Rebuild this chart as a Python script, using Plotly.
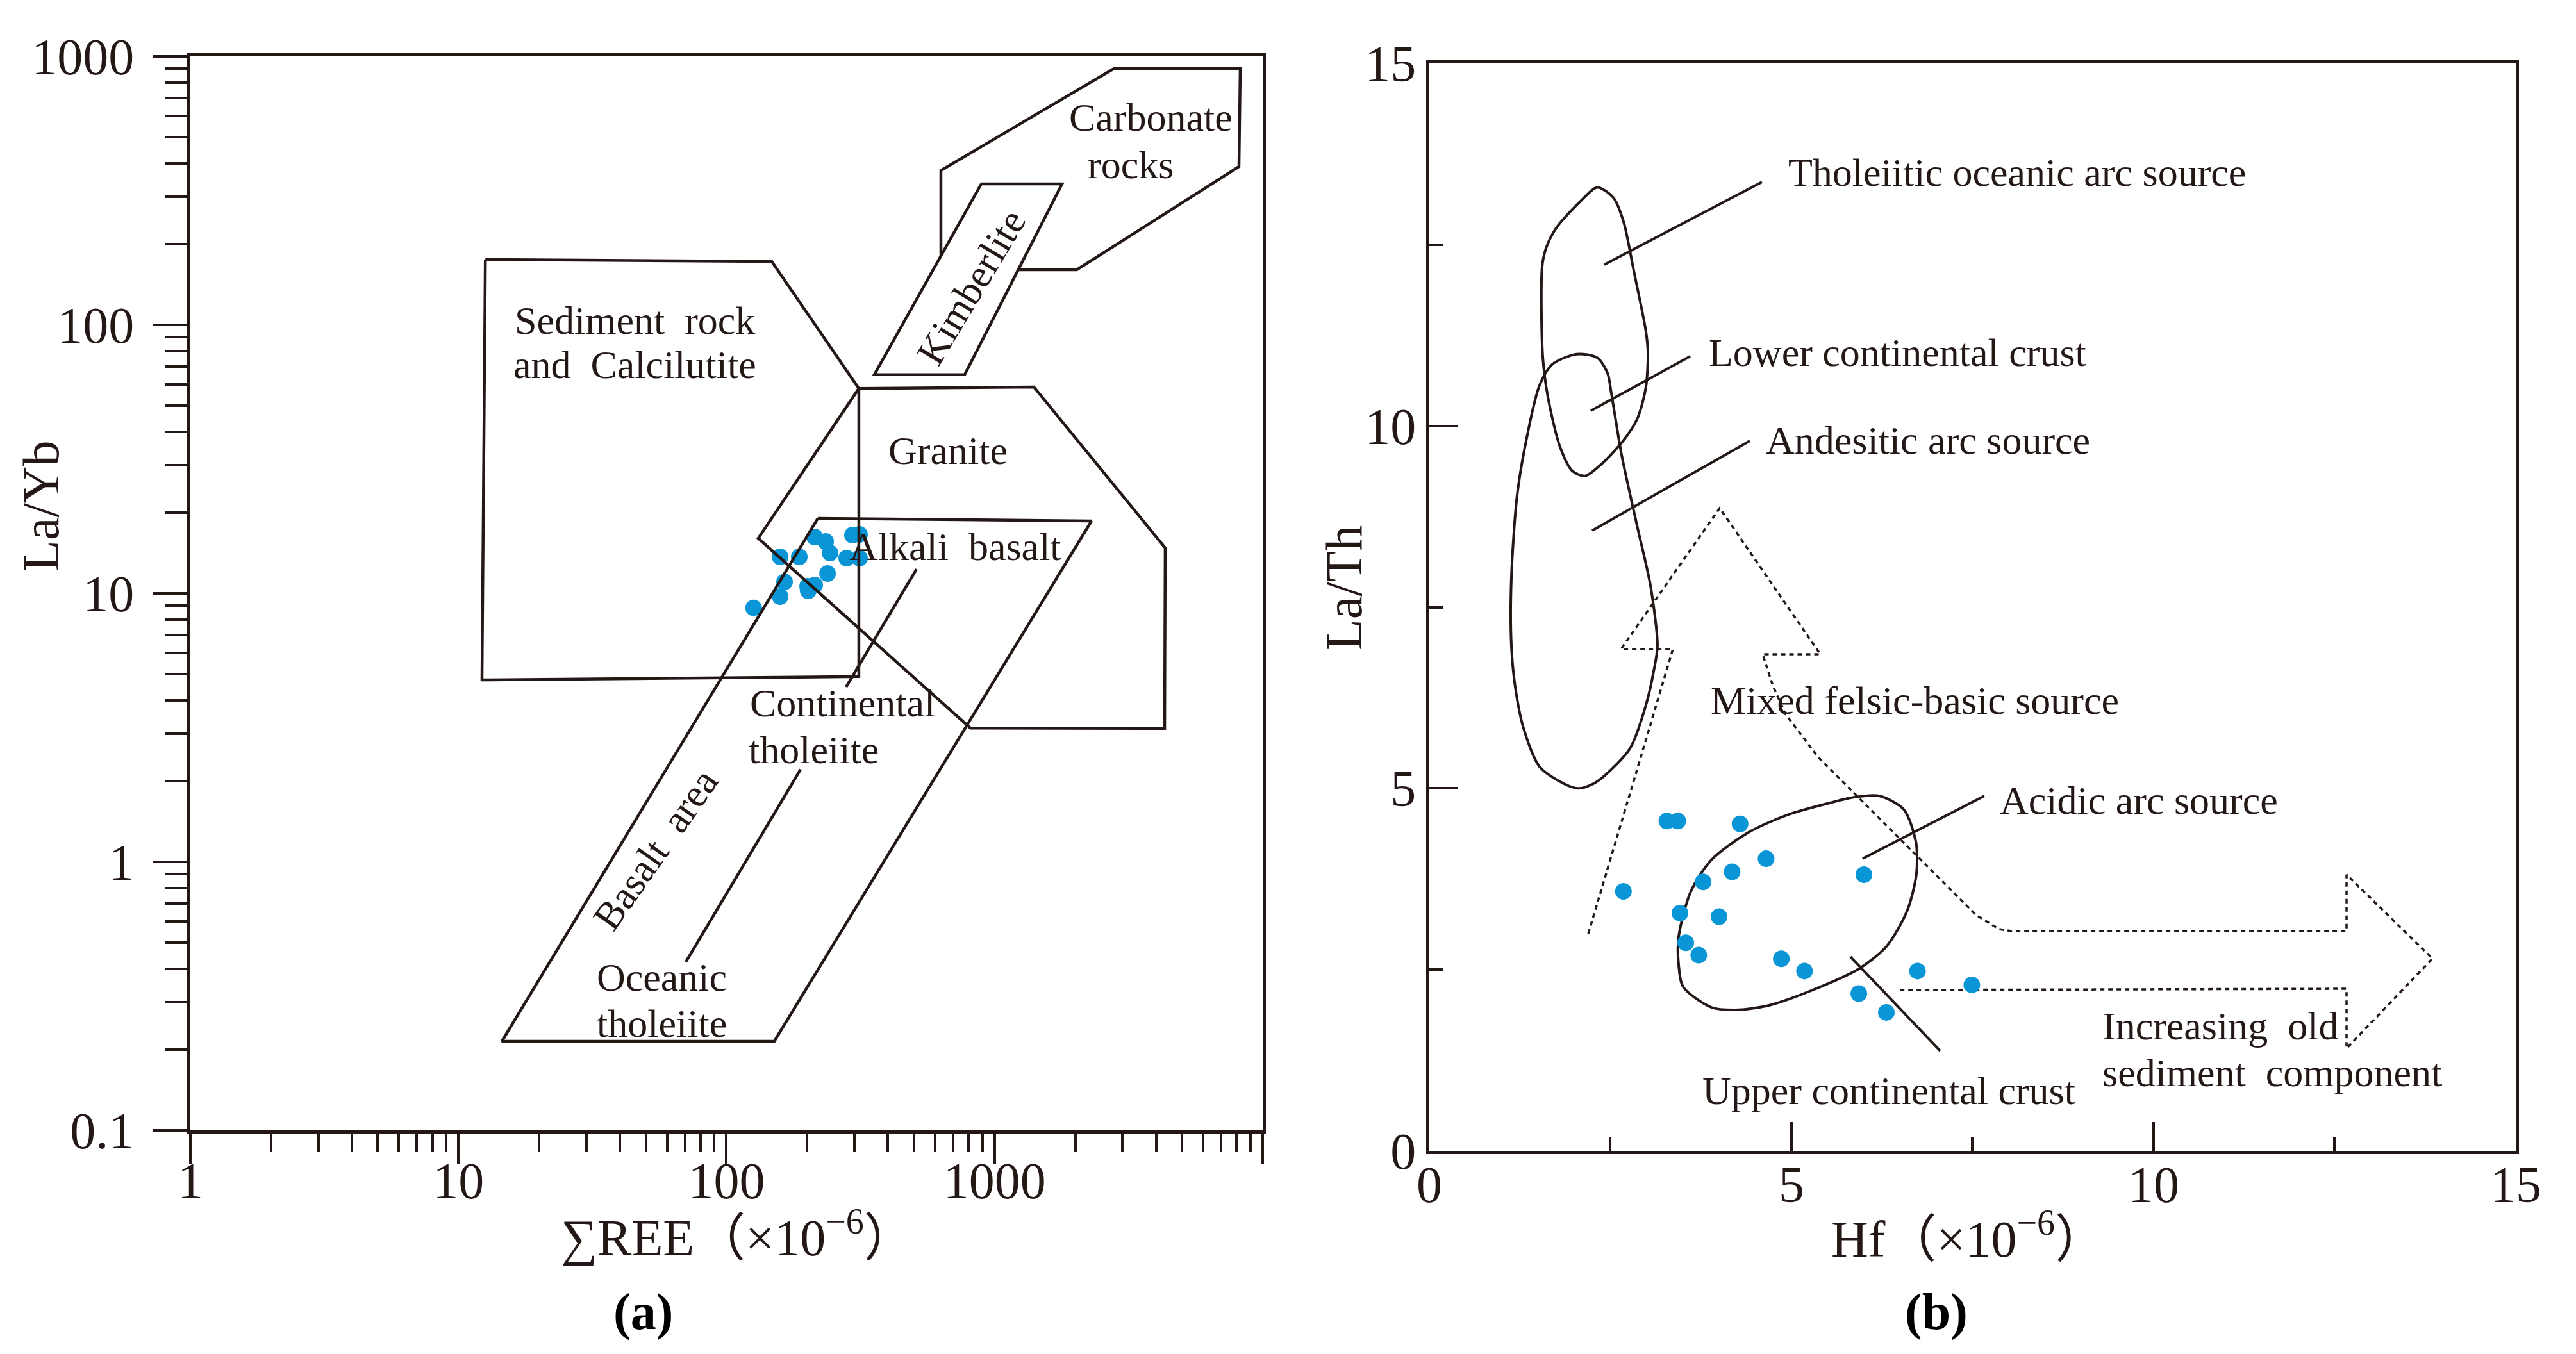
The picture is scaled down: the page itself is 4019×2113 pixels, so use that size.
import math
import plotly.graph_objects as go

# ---------------- Panel (a) : La/Yb vs sum REE ----------------
ree = [126.2, 158.4, 164.6, 158.4, 186.8, 200.7, 213.2, 238.1, 213.2, 234.2, 243.3, 280.7, 295.0, 313.4, 313.4, 201.8]
la_yb = [8.83, 9.73, 11.04, 13.68, 13.68, 10.62, 10.74, 11.86, 16.22, 15.61, 14.14, 13.53, 16.49, 16.58, 13.53, 10.22]

sediment_x = [12.6, 147.4, 311.6, 311.6, 12.24, 12.6]
sediment_y = [175.1, 172.3, 58.0, 4.90, 4.76, 175.1]
granite_x = [311.6, 1401, 4330, 4307, 812.4, 131.3, 311.6]
granite_y = [58.0, 58.7, 14.77, 3.14, 3.15, 16.04, 58.0]
basalt_x = [219.1, 2299, 150.7, 14.52, 219.1]
basalt_y = [19.03, 18.61, 0.2147, 0.2147, 19.03]
kimb_x = [891.9, 1785, 773.0, 355.7, 891.9]
kimb_y = [335, 335, 65.2, 65.2, 335]
carb_x = [630.5, 630.5, 2788, 8249, 8157, 2026, 1227]
carb_y = [181.1, 376.0, 900.9, 900.9, 388.6, 160.4, 160.4]
lead_a = [([511.6, 279.2], [12.32, 4.48]), ([188.9, 70.5], [2.21, 0.424])]

a_text = ["Sediment \u00a0rock", "and \u00a0Calcilutite", "Carbonate", "rocks", "Kimberlite", "Granite",
          "Alkali \u00a0basalt", "Continental", "tholeiite", "Oceanic", "tholeiite", "Basalt \u00a0area"]
a_tx = [45.6, 45.6, 3837, 3217, 817, 670, 712, 270.2, 210.9, 57.5, 57.5, 54.4]
a_ty = [103.9, 71.1, 593, 395, 138.3, 34.1, 14.94, 3.91, 2.62, 0.372, 0.250, 1.116]
a_ang = [0, 0, 0, 0, -59, 0, 0, 0, 0, 0, 0, -55]

a_xticks = [1, 10, 100, 1000, 10000]
a_xticktext = ["1", "10", "100", "1000", ""]
a_yticks = [0.1, 1, 10, 100, 1000]
a_yticktext = ["0.1", "1", "10", "100", "1000"]
minor_x = [m * 10 ** d for d in range(0, 4) for m in range(2, 10)]
minor_y = [m * 10 ** d for d in range(-1, 3) for m in range(2, 10)]

# ---------------- Panel (b) : La/Th vs Hf ----------------
hf = [2.68, 3.28, 3.43, 4.29, 4.65, 4.18, 3.78, 3.46, 4.00, 3.54, 3.72, 4.86, 5.18, 6.00, 6.74, 5.93, 6.31, 7.49]
la_th = [3.58, 4.55, 4.55, 4.51, 4.03, 3.85, 3.71, 3.28, 3.23, 2.87, 2.70, 2.65, 2.48, 3.81, 2.48, 2.17, 1.91, 2.29]

thol_x = [2.319, 2.540, 2.681, 2.823, 2.991, 3.018, 2.991, 2.876, 2.681, 2.372, 2.150, 1.973, 1.805, 1.637,
          1.566, 1.558, 1.611, 1.752, 2.088, 2.319]
thol_y = [13.29, 13.15, 12.82, 12.14, 11.30, 11.01, 10.54, 10.11, 9.80, 9.47, 9.31, 9.38, 9.71, 10.40,
          10.96, 12.20, 12.45, 12.73, 13.10, 13.29]
ande_x = [2.035, 2.319, 2.460, 2.513, 2.655, 2.876, 3.053, 3.150, 3.106, 2.991, 2.770, 2.425, 2.257, 2.062,
          1.867, 1.522, 1.301, 1.186, 1.133, 1.133, 1.212, 1.354, 1.522, 1.699, 2.035]
ande_y = [10.99, 10.94, 10.73, 10.45, 9.60, 8.59, 7.80, 6.97, 6.66, 6.15, 5.55, 5.18, 5.06, 5.00,
          5.06, 5.30, 5.83, 6.40, 6.97, 7.91, 9.04, 9.88, 10.56, 10.85, 10.99]
acid_x = [6.212, 6.549, 6.717, 6.726, 6.602, 6.319, 5.929, 5.248, 4.690, 4.230, 3.894, 3.504, 3.442, 3.442,
          3.611, 3.894, 4.407, 4.965, 5.531, 5.867, 6.212]
acid_y = [4.897, 4.711, 4.269, 3.827, 3.324, 2.829, 2.510, 2.201, 2.007, 1.945, 1.980, 2.263, 2.572, 2.952,
          3.580, 4.013, 4.393, 4.641, 4.800, 4.879, 4.897]
arrow_x = [2.195, 3.363, 2.646, 4.009, 5.398, 4.602, 4.743, 4.920, 5.372, 5.965, 6.558, 7.150, 7.549, 7.867,
           8.035, 12.664, 12.664, 13.850, 12.664, 12.664, 6.460]
arrow_y = [2.997, 6.921, 6.921, 8.866, 6.851, 6.851, 6.417, 6.020, 5.427, 4.835, 4.243, 3.651, 3.253, 3.058,
           3.032, 3.032, 3.810, 2.652, 1.414, 2.236, 2.219]
lead_b = [([4.593, 2.416], [13.365, 12.225]), ([3.602, 2.230], [10.961, 10.209]),
          ([4.425, 2.248], [9.794, 8.557]), ([7.664, 5.982], [4.897, 4.031]),
          ([7.053, 5.814], [1.379, 2.678])]

b_text = ["Tholeiitic oceanic arc source", "Lower continental crust", "Andesitic arc source",
          "Mixed felsic-basic source", "Acidic arc source", "Upper continental crust",
          "Increasing \u00a0old", "sediment \u00a0component"]
b_tx = [4.938, 3.841, 4.628, 3.867, 7.858, 3.752, 9.274, 9.274]
b_ty = [13.50, 11.01, 9.80, 6.214, 4.835, 0.831, 1.724, 1.078]

# ---------------- styling ----------------
INK = "#231815"
BLUE = "#0A96D6"
SERIF = "Liberation Serif, Times New Roman, serif"
SERIF_CJK = "Liberation Serif, Noto Sans CJK SC, serif"
LW = 4.5

fig = go.Figure()

# panel a points (below the outlines)
fig.add_trace(go.Scatter(x=ree, y=la_yb, mode="markers", xaxis="x", yaxis="y",
                         marker=dict(size=26, color=BLUE), showlegend=False, hoverinfo="skip"))
for px, py in [(sediment_x, sediment_y), (granite_x, granite_y), (basalt_x, basalt_y),
               (kimb_x, kimb_y), (carb_x, carb_y)] + lead_a:
    fig.add_trace(go.Scatter(x=px, y=py, mode="lines", xaxis="x", yaxis="y",
                             line=dict(color=INK, width=LW), showlegend=False, hoverinfo="skip"))

# panel b outlines
for px, py in [(thol_x, thol_y), (ande_x, ande_y), (acid_x, acid_y)]:
    fig.add_trace(go.Scatter(x=px, y=py, mode="lines", xaxis="x2", yaxis="y2",
                             line=dict(color=INK, width=4, shape="spline", smoothing=0.8),
                             showlegend=False, hoverinfo="skip"))
fig.add_trace(go.Scatter(x=arrow_x, y=arrow_y, mode="lines", xaxis="x2", yaxis="y2",
                         line=dict(color=INK, width=3.5, dash="7px,6px"),
                         showlegend=False, hoverinfo="skip"))
for px, py in lead_b:
    fig.add_trace(go.Scatter(x=px, y=py, mode="lines", xaxis="x2", yaxis="y2",
                             line=dict(color=INK, width=4), showlegend=False, hoverinfo="skip"))
fig.add_trace(go.Scatter(x=hf, y=la_th, mode="markers", xaxis="x2", yaxis="y2",
                         marker=dict(size=26, color=BLUE), showlegend=False, hoverinfo="skip"))

ann = []
for t, x, y, a in zip(a_text, a_tx, a_ty, a_ang):
    ann.append(dict(text=t, x=math.log10(x), y=math.log10(y), xref="x", yref="y", showarrow=False,
                    xanchor="center", yanchor="middle",
                    textangle=a, font=dict(family=SERIF, size=62, color=INK)))
for t, x, y in zip(b_text, b_tx, b_ty):
    ann.append(dict(text=t, x=x, y=y, xref="x2", yref="y2", showarrow=False, xanchor="left",
                    yanchor="middle", font=dict(family=SERIF, size=62, color=INK)))

title_font = dict(family=SERIF_CJK, size=80, color=INK)
paper_txt = dict(xref="paper", yref="paper", showarrow=False, xanchor="center", yanchor="middle")
ann += [
    dict(text="La/Yb", x=0.01393, y=0.62991, textangle=-90, font=title_font, **paper_txt),
    dict(text="\u2211REE\uff08\u00d710<sup>\u22126</sup>\uff09", x=0.2844, y=0.0925, font=title_font,
         **paper_txt),
    dict(text="La/Th", x=0.5198, y=0.56933, textangle=-90, font=title_font, **paper_txt),
    dict(text="Hf\uff08\u00d710<sup>\u22126</sup>\uff09", x=0.76213, y=0.0915, font=title_font,
         **paper_txt),
    dict(text="<b>(a)</b>", x=0.24758, y=0.03455, font=dict(family=SERIF, size=80, color="black"),
         **paper_txt),
    dict(text="<b>(b)</b>", x=0.74969, y=0.03455, font=dict(family=SERIF, size=80, color="black"),
         **paper_txt),
]

tickfont = dict(family=SERIF, size=80, color=INK)
common = dict(showline=True, mirror=True, linecolor=INK, linewidth=LW, showgrid=False, zeroline=False,
              tickcolor=INK, tickwidth=4, tickfont=tickfont, automargin=False)

fig.update_layout(
    width=4019, height=2113,
    margin=dict(l=0, r=0, t=0, b=0, autoexpand=False),
    paper_bgcolor="white", plot_bgcolor="white",
    showlegend=False,
    annotations=ann,
    xaxis=dict(domain=[0.07191, 0.48818], type="log", range=[0, 4], anchor="y",
               ticks="outside", ticklen=48, tickmode="array", tickvals=a_xticks, ticktext=a_xticktext,
               minor=dict(tickmode="array", tickvals=minor_x, ticks="outside", ticklen=29, tickwidth=4,
                          tickcolor=INK),
               ticklabelstandoff=-43, **common),
    yaxis=dict(domain=[0.16895, 0.96214], type="log", range=[-1, 3], anchor="x",
               ticks="outside", ticklen=53, tickmode="array", tickvals=a_yticks, ticktext=a_yticktext,
               minor=dict(tickmode="array", tickvals=minor_y, ticks="outside", ticklen=34, tickwidth=4,
                          tickcolor=INK),
               ticklabelstandoff=14, **common),
    xaxis2=dict(domain=[0.55287, 0.97462], range=[0, 15], anchor="y2",
                ticks="inside", ticklen=45, tickmode="linear", tick0=0, dtick=5,
                minor=dict(tick0=0, dtick=2.5, ticks="inside", ticklen=22, tickwidth=4, tickcolor=INK),
                ticklabelstandoff=-21, **common),
    yaxis2=dict(domain=[0.15381, 0.95693], range=[0, 15], anchor="x2",
                ticks="inside", ticklen=45, tickmode="linear", tick0=0, dtick=5,
                minor=dict(tick0=0, dtick=2.5, ticks="inside", ticklen=22, tickwidth=4, tickcolor=INK),
                ticklabelstandoff=0, **common),
)

fig.write_html("out.html")
